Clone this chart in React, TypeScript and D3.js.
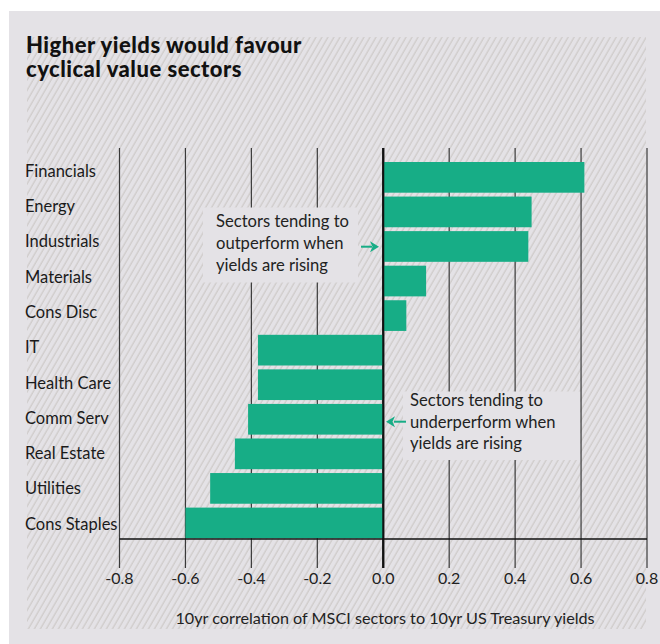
import React from "react";
import * as d3 from "d3";

const categories = ["Financials", "Energy", "Industrials", "Materials", "Cons Disc", "IT", "Health Care", "Comm Serv", "Real Estate", "Utilities", "Cons Staples"];
const values = [0.61, 0.45, 0.44, 0.13, 0.07, -0.38, -0.38, -0.41, -0.45, -0.525, -0.6];
const ticks = [-0.8, -0.6, -0.4, -0.2, 0, 0.2, 0.4, 0.6, 0.8];
const titleLines = ["Higher yields would favour", "cyclical value sectors"];
const noteUp = ["Sectors tending to", "outperform when", "yields are rising"];
const noteDown = ["Sectors tending to", "underperform when", "yields are rising"];
const axisTitle = "10yr correlation of MSCI sectors to 10yr US Treasury yields";

const W = 660, H = 644;
const GREEN = "#17ad86";
const BG = "#e4e2e6";
const FONT = "Lato, 'Noto Sans', sans-serif";

const fmt = (t: number) => d3.format(".1f")(t).replace("\u2212", "-");

export default function App() {
  const x = d3.scaleLinear().domain([-0.8, 0.8]).range([119.5, 647]);
  const y = d3.scaleBand<string>().domain(categories).range([162, 538.3]).paddingInner(0.112).paddingOuter(0);
  const yLab = d3.scalePoint<string>().domain(categories).range([171, 524]);
  const gridTop = 148, axisY = 539, tickBottom = 568;
  const x0 = x(0);

  return (
    <svg width={W} height={H} style={{ position: "absolute", left: 0, top: 0, display: "block" }} fontFamily={FONT}>
      <defs>
        <pattern id="hatch" patternUnits="userSpaceOnUse" width={5.2} height={10} patternTransform="rotate(30)">
          <line x1={1} y1={0} x2={1} y2={10} stroke="#cbc7c5" strokeWidth={1.1} />
        </pattern>
      </defs>
      <rect x={0} y={0} width={W} height={H} fill="#fff" />
      <rect x={9} y={11} width={W - 9} height={H - 11} fill={BG} />
      <rect x={27} y={37} width={619} height={592} fill="url(#hatch)" />

      {titleLines.map((t, i) => (
        <text key={t} x={26} y={52.5 + i * 24.5} fontSize={22} fontWeight={900} fill="#111" letterSpacing={0.5}>{t}</text>
      ))}

      {/* gridlines */}
      {ticks.map((t) => (
        <line key={"g" + t} x1={x(t)} x2={x(t)} y1={gridTop} y2={tickBottom} stroke={t === 0 ? "#111" : "#3a3a3a"} strokeWidth={t === 0 ? 2 : 1.2} />
      ))}

      {/* annotation boxes (drawn over gridlines) */}
      <rect x={203} y={207.5} width={155} height={75} fill={BG} />
      <rect x={403} y={391.5} width={177} height={68.5} fill={BG} />

      {/* bars */}
      {categories.map((c, i) => {
        const v = values[i];
        return (
          <rect key={c} x={Math.min(x(v), x0)} y={y(c)!} width={Math.abs(x(v) - x0)} height={y.bandwidth()} fill={GREEN} />
        );
      })}
      <line x1={x0} x2={x0} y1={gridTop} y2={tickBottom} stroke="#111" strokeWidth={2} />
      <line x1={x(-0.8)} x2={x(0.8)} y1={axisY} y2={axisY} stroke="#111" strokeWidth={1.5} />

      {/* category labels */}
      {categories.map((c) => (
        <text key={"l" + c} x={25} y={yLab(c)!} dy="0.35em" fontSize={16.5} fill="#1a1a1a">{c}</text>
      ))}

      {/* tick labels */}
      {ticks.map((t) => (
        <text key={"t" + t} x={x(t)} y={578} dy="0.35em" textAnchor="middle" fontSize={16} fill="#222">{fmt(t)}</text>
      ))}
      <text x={385} y={618} dy="0.35em" textAnchor="middle" fontSize={16.2} fill="#222">{axisTitle}</text>

      {/* notes */}
      {noteUp.map((t, i) => (
        <text key={"u" + i} x={216} y={221 + i * 22} dy="0.35em" fontSize={16.6} fill="#222">{t}</text>
      ))}
      {noteDown.map((t, i) => (
        <text key={"d" + i} x={410} y={400 + i * 21.7} dy="0.35em" fontSize={16.6} fill="#222">{t}</text>
      ))}

      {/* arrows */}
      <g fill={GREEN} stroke={GREEN} strokeWidth={2}>
        <line x1={361} y1={246.7} x2={372} y2={246.7} />
        <path d="M370,241.2 L379,246.7 L370,252.2 L372.5,246.7 Z" strokeWidth={0} />
        <line x1={394} y1={421.7} x2={406} y2={421.7} />
        <path d="M395,416.2 L386,421.7 L395,427.2 L392.5,421.7 Z" strokeWidth={0} />
      </g>
    </svg>
  );
}
